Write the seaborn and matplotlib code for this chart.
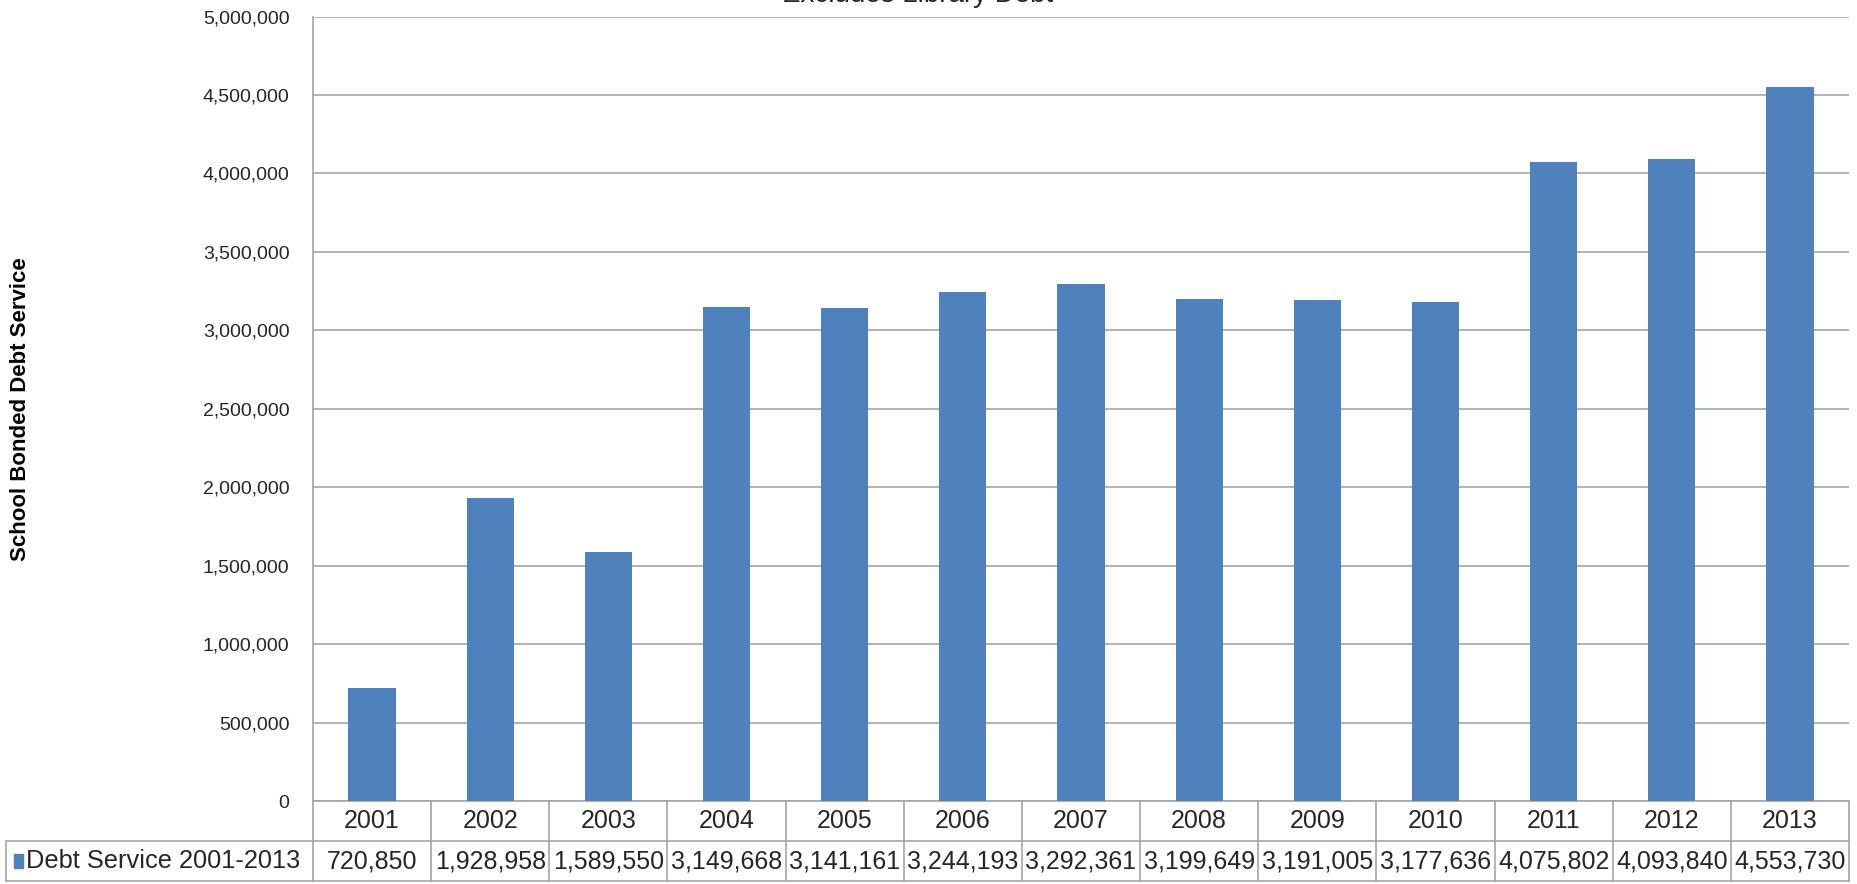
import matplotlib
matplotlib.use('Agg')
import matplotlib.pyplot as plt
import seaborn as sns
import pandas as pd
from matplotlib.lines import Line2D
from matplotlib.patches import Rectangle
from matplotlib.ticker import FuncFormatter

# ---- data ----
years = ['2001', '2002', '2003', '2004', '2005', '2006', '2007',
         '2008', '2009', '2010', '2011', '2012', '2013']
debt_service = [720850, 1928958, 1589550, 3149668, 3141161, 3244193, 3292361,
                3199649, 3191005, 3177636, 4075802, 4093840, 4553730]
series_name = 'Debt Service 2001-2013'
y_ticks = [0, 500000, 1000000, 1500000, 2000000, 2500000, 3000000,
           3500000, 4000000, 4500000, 5000000]
title_text = 'Excludes Library Debt'
ylabel_text = 'School Bonded Debt Service'

BLUE = '#4F81BD'
GRID = '#A6A6A6'
TEXT = '#262626'

sns.set_theme(style='white')
plt.rcParams['font.family'] = ['Liberation Sans', 'DejaVu Sans']

W, H = 1858, 884
fig = plt.figure(figsize=(W / 100, H / 100), dpi=100)
ax_left, ax_right = 313 / W, 1849 / W
ax_bottom, ax_top = 1 - 801 / H, 1 - 16.6 / H
ax = fig.add_axes([ax_left, ax_bottom, ax_right - ax_left, ax_top - ax_bottom])

df = pd.DataFrame({'year': years, 'value': debt_service})
sns.barplot(data=df, x='year', y='value', color=BLUE, saturation=1,
            width=0.4, ax=ax, zorder=3, linewidth=0)

ax.set_xlim(-0.5, len(years) - 0.5)
ax.set_ylim(0, y_ticks[-1])
ax.set_yticks(y_ticks)
ax.yaxis.set_major_formatter(FuncFormatter(lambda v, p: f'{int(v):,}'))
ax.tick_params(axis='y', length=0, pad=17, labelsize=14, labelcolor=TEXT)
ax.set_xticks([])
ax.set_xlabel('')
ax.set_ylabel('')
ax.yaxis.grid(True, color=GRID, linewidth=1.2, zorder=0)
ax.set_axisbelow(True)
for s in ['top', 'right']:
    ax.spines[s].set_visible(False)
for s in ['left', 'bottom']:
    ax.spines[s].set_color(GRID)
    ax.spines[s].set_linewidth(1.2)

# y label and title
fig.text(21 / W, 1 - 409 / H, ylabel_text, rotation=90, ha='center', va='center',
         fontsize=16, fontweight='bold', color='black')
fig.text(918 / W, 1 - 2.5 / H, title_text, ha='center', va='baseline',
         fontsize=20, color=TEXT)

# ---- data table ----
def fx(xd):
    disp = ax.transData.transform((xd, 0))
    return fig.transFigure.inverted().transform(disp)[0]

row_h = 40 / H
y0 = ax_bottom
y1 = y0 - row_h
y2 = y1 - row_h
tab_left = 6 / W
tab_right = fx(len(years) - 0.5)

lines = []
for k in range(len(years) + 1):
    x = fx(k - 0.5)
    lines.append(([x, x], [y2, y0]))
lines.append(([tab_left, tab_right], [y1, y1]))
lines.append(([tab_left, tab_right], [y2, y2]))
lines.append(([tab_left, tab_left], [y2, y1]))
for xs, ys in lines:
    fig.add_artist(Line2D(xs, ys, color=GRID, linewidth=1.2,
                          transform=fig.transFigure))

for i, (yr, v) in enumerate(zip(years, debt_service)):
    xc = fx(i)
    fig.text(xc, (y0 + y1) / 2, yr, ha='center', va='center',
             fontsize=18, color=TEXT)
    fig.text(xc, (y1 + y2) / 2, f'{v:,}', ha='center', va='center',
             fontsize=18, color=TEXT)

fig.add_artist(Rectangle((14 / W, (y1 + y2) / 2 - 7 / H), 9 / W, 14 / H,
                         transform=fig.transFigure, color=BLUE))
fig.text(26 / W, (y1 + y2) / 2, series_name, ha='left', va='center',
         fontsize=18.3, color=TEXT)

fig.savefig('out.png', dpi=100)
